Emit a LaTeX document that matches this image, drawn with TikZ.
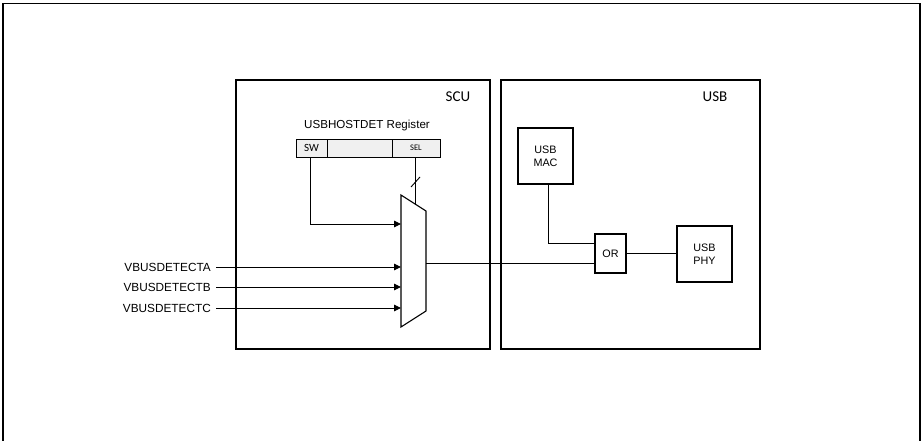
\documentclass[tikz,border=0pt]{standalone}
\usepackage{fontspec}
\setmainfont{Liberation Sans}
\newfontfamily\calfont{Carlito}
\usetikzlibrary{arrows.meta}
\begin{document}
\begin{tikzpicture}[x=1pt,y=-1pt,
  blk/.style={draw, line width=1.4pt, inner sep=0pt, align=center},
  cell/.style={draw, line width=0.9pt, fill=gray!12, inner sep=0pt, minimum height=18pt},
  wire/.style={line width=0.9pt},
  arr/.style={wire, -{Triangle[length=7pt,width=6.5pt]}},
  lbl/.style={font=\fontsize{11.8}{13}\selectfont, inner sep=0pt},
  big/.style={font=\calfont\fontsize{15}{17}\selectfont, inner sep=0pt},
  txt/.style={font=\fontsize{10.8}{13}\selectfont}]
\useasboundingbox (0,0) rectangle (924,441);
\clip (0,0) rectangle (924,441);
\draw[line width=1.8pt] (3,460) -- (3,3.5) -- (920,3.5) -- (920,460);
% blocks
\node[blk, minimum width=254pt, minimum height=269pt] (scu) at (363,214.5) {};
\node[blk, minimum width=259pt, minimum height=269pt] (usb) at (630.5,214.5) {};
\node[big] (scul) at (458,97) {SCU};
\node[big] (usbl) at (715,97) {USB};
% register
\node[lbl, font=\fontsize{11.6}{13}\selectfont] (regl) at (367,126) {USBHOSTDET Register};
\node[cell, minimum width=31pt, font=\calfont\fontsize{11}{13}\selectfont] (sw) at (311.5,148) {SW};
\node[cell, minimum width=65pt] (mid) at (359.5,148) {};
\node[cell, minimum width=48pt, font=\calfont\fontsize{8.5}{10}\selectfont] (sel) at (416,148) {SEL};
% mux
\coordinate (m1) at (401,195);
\coordinate (m2) at (426,211);
\coordinate (m3) at (426,311);
\coordinate (m4) at (401,327);
\draw[line width=1.1pt] (m1) -- (m2) -- (m3) -- (m4) -- cycle;
\coordinate (mtop) at (415.5,204.3);
\draw[wire] (sel.south -| mtop) -- (mtop);
\coordinate (s1) at (411,187);
\coordinate (s2) at (420,177);
\draw[wire] (s1) -- (s2);
% sw path
\coordinate (swin) at (401,224);
\draw[arr] ([xshift=-1pt]sw.south) |- (swin);
% inputs
\node[lbl, anchor=east] (va) at (211,267) {VBUSDETECTA};
\node[lbl, anchor=east] (vb) at (211,287) {VBUSDETECTB};
\node[lbl, anchor=east] (vc) at (211,308) {VBUSDETECTC};
\coordinate (ia) at (401,267);
\coordinate (ib) at (401,287);
\coordinate (ic) at (401,308);
\draw[arr] ([xshift=5pt]va.east) -- (ia);
\draw[arr] ([xshift=5pt]vb.east) -- (ib);
\draw[arr] ([xshift=5pt]vc.east) -- (ic);
% USB side
\node[blk, minimum width=55pt, minimum height=56pt, txt] (mac) at (545.5,156) {USB\\MAC};
\node[blk, minimum width=55pt, minimum height=56pt, txt] (phy) at (704.5,254) {USB\\PHY};
\node[blk, minimum width=31pt, minimum height=39pt, txt] (or) at (610.5,253.5) {OR};
\coordinate (mout) at (426,263);
\draw[wire] (mout) -- (mout -| or.west);
\coordinate (macin) at (548,243);
\draw[wire] (mac.south -| macin) -- (macin) -- (macin -| or.west);
\draw[wire] (or.east) -- (phy.west |- or.east);
\end{tikzpicture}
\end{document}
